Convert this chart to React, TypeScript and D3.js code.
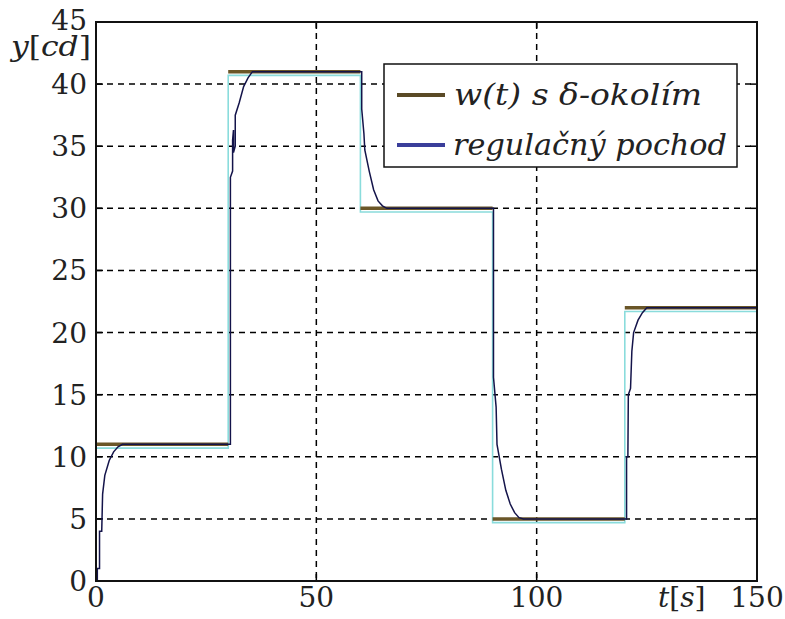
import React from "react";
import * as d3 from "d3";

const xTicks = [0, 50, 100, 150];
const yTicks = [0, 5, 10, 15, 20, 25, 30, 35, 40, 45];
const stepTimes = [0, 30, 60, 90, 120, 150];
const stepLevels = [11, 41, 30, 5, 22];
const responseT = [0, 0.3, 0.3, 0.8, 0.8, 1.3, 1.5, 2, 3, 4, 5, 6,
  30, 30.5, 30.5, 31, 31, 31.2, 31.2, 31.6, 31.6, 32.5, 33.5, 34.5, 35.5,
  60, 60.3, 60.3, 60.8, 61, 62, 63, 64, 65, 66,
  90, 90.2, 90.2, 90.8, 91, 92, 93, 94, 95, 96, 97,
  120, 120.4, 120.4, 120.7, 120.8, 121.3, 121.6, 122, 123, 124, 125, 150];
const responseY = [0, 0, 1, 1, 4, 4, 7, 8.5, 9.7, 10.4, 10.8, 11,
  11, 11, 32.5, 33, 35.5, 36.3, 34.5, 35, 37.5, 38.5, 39.8, 40.5, 41,
  41, 41, 38, 36, 34.7, 33, 31.5, 30.6, 30.2, 30,
  30, 30, 16.4, 14, 11, 9, 7.3, 6.2, 5.5, 5.1, 5,
  5, 5, 10, 10, 15, 15.5, 18.5, 20, 21, 21.6, 22, 22];
const legendLabels = ["w(t) s δ-okolím", "regulačný pochod"];

const W = 785, H = 619;
const L = 96, R = 757, T = 22, B = 581;
const delta = 0.3;

export default function App() {
  const x = d3.scaleLinear().domain([0, 150]).range([L, R]);
  const y = d3.scaleLinear().domain([0, 45]).range([B, T]);

  const cyanPts: [number, number][] = [];
  stepLevels.forEach((v, i) => {
    cyanPts.push([stepTimes[i], v - delta]);
    cyanPts.push([stepTimes[i + 1], v - delta]);
  });
  const line = d3.line<[number, number]>().x(d => x(d[0])).y(d => y(d[1]));
  const resp: [number, number][] = responseT.map((t, i) => [t, responseY[i]]);

  const font = "'DejaVu Serif', serif";
  const dash = "6,5";
  return (
    <svg width={W} height={H} style={{ position: "absolute", left: 0, top: 0, background: "#fff" }}>
      {xTicks.slice(1, -1).map(t => (
        <line key={"gx" + t} x1={x(t)} x2={x(t)} y1={T} y2={B} stroke="#000" strokeWidth={1.5} strokeDasharray={dash} />
      ))}
      {yTicks.slice(1, -1).map(t => (
        <line key={"gy" + t} x1={L} x2={R} y1={y(t)} y2={y(t)} stroke="#000" strokeWidth={1.5} strokeDasharray={dash} />
      ))}
      {xTicks.map(t => (
        <g key={"tx" + t}>
          <line x1={x(t)} x2={x(t)} y1={B} y2={B - 7} stroke="#000" strokeWidth={1.5} />
          <line x1={x(t)} x2={x(t)} y1={T} y2={T + 7} stroke="#000" strokeWidth={1.5} />
        </g>
      ))}
      {yTicks.map(t => (
        <g key={"ty" + t}>
          <line x1={L} x2={L + 7} y1={y(t)} y2={y(t)} stroke="#000" strokeWidth={1.5} />
          <line x1={R} x2={R - 7} y1={y(t)} y2={y(t)} stroke="#000" strokeWidth={1.5} />
        </g>
      ))}
      <path d={line(cyanPts) || ""} fill="none" stroke="#8adcdc" strokeWidth={1.6} />
      {stepLevels.map((v, i) => (
        <line key={"w" + i} x1={x(stepTimes[i])} x2={x(stepTimes[i + 1])} y1={y(v)} y2={y(v)} stroke="#6a5628" strokeWidth={3.5} />
      ))}
      <path d={line(resp) || ""} fill="none" stroke="#14144a" strokeWidth={1.5} />
      <rect x={L} y={T} width={R - L} height={B - T} fill="none" stroke="#111" strokeWidth={2} />
      {xTicks.map(t => (
        <text key={"lx" + t} x={x(t)} y={607} textAnchor="middle" fontFamily={font} fontSize={28} fill="#222">{t}</text>
      ))}
      {yTicks.map(t => (
        <text key={"ly" + t} x={87} y={y(t) + (t === 45 ? 8 : 10)} textAnchor="end" fontFamily={font} fontSize={28} fill="#222">{t}</text>
      ))}
      <text x={11} y={56} fontFamily={font} fontSize={27} fill="#222" textLength={80} lengthAdjust="spacingAndGlyphs">
        <tspan fontStyle="italic">y</tspan><tspan>[</tspan><tspan fontStyle="italic">cd</tspan><tspan>]</tspan>
      </text>
      <text x={658} y={607} fontFamily={font} fontSize={28} fill="#222">
        <tspan fontStyle="italic">t</tspan><tspan>[</tspan><tspan fontStyle="italic">s</tspan><tspan>]</tspan>
      </text>
      <rect x={384} y={64} width={353} height={103} fill="#fff" stroke="#111" strokeWidth={1.5} />
      <line x1={397} x2={445} y1={95} y2={95} stroke="#5a4a26" strokeWidth={4} />
      <line x1={397} x2={445} y1={145} y2={145} stroke="#3a3e9a" strokeWidth={4} />
      <text x={454} y={105} fontFamily={font} fontStyle="italic" fontSize={30} fill="#222" textLength={248} lengthAdjust="spacingAndGlyphs">{legendLabels[0]}</text>
      <text x={453} y={155} fontFamily={font} fontStyle="italic" fontSize={30} fill="#222" textLength={274} lengthAdjust="spacingAndGlyphs">{legendLabels[1]}</text>
    </svg>
  );
}
